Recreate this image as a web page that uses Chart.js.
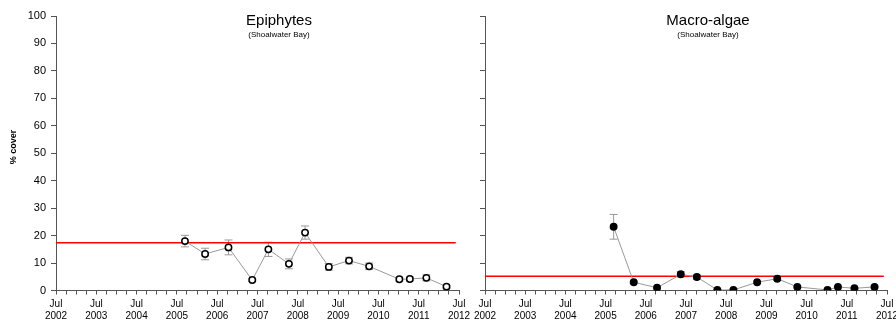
<!DOCTYPE html>
<html>
<head>
<meta charset="utf-8">
<script src="https://cdn.jsdelivr.net/npm/chart.js@4.4.0/dist/chart.umd.min.js"></script>
<style>
  html, body { margin: 0; padding: 0; background: #fff; }
  #wrap { position: relative; width: 896px; height: 325px; }
  canvas { position: absolute; top: 0; }
  #c1 { left: 0; }
  #c2 { left: 470px; }
</style>
</head>
<body>
<div id="wrap">
  <canvas id="c1" width="470" height="325"></canvas>
  <canvas id="c2" width="426" height="325"></canvas>
</div>
<script>
// sampling dates as decimal years (Jul 2002 = 2002.5)
const sampleDates = [2005.70, 2006.20, 2006.78, 2007.37, 2007.77, 2008.28, 2008.68,
                     2009.27, 2009.77, 2010.27, 2011.02, 2011.28, 2011.69, 2012.19];

const epiphyteCover = [18.0, 13.3, 15.7, 3.8, 15.0, 9.7, 21.1, 8.6, 10.9, 8.8, 4.1, 4.2, 4.6, 1.4];
const epiphyteErr   = [2.1, 2.1, 2.7, 0.5, 2.6, 1.8, 2.4, 1.2, 1.2, 1.2, 0.7, 0.7, 1.1, 0.5];
const epiphyteRef   = 17.4;

const macroCover = [23.2, 3.0, 1.0, 5.9, 4.9, 0.2, 0.2, 3.0, 4.3, 1.3, 0.2, 1.3, 0.8, 1.3];
const macroErr   = [4.5, 0.4, 0.3, 1.0, 0.8, 0.1, 0.1, 0.4, 0.6, 0.3, 0.1, 0.3, 0.2, 0.3];
const macroRef   = 5.2;

const refSpan = [2002.5, 2012.42];
const xRange = [2002.5, 2012.5];
const yTicks = [0, 10, 20, 30, 40, 50, 60, 70, 80, 90, 100];

Chart.defaults.font.family = '"Liberation Sans", Arial, sans-serif';
Chart.defaults.color = '#000';

const AXIS = '#555';

// error bars drawn under the markers, through the chart's own scales
const errorBarPlugin = {
  id: 'errorBars',
  beforeDatasetsDraw(chart, args, opts) {
    const { ctx, scales: { x, y } } = chart;
    ctx.save();
    ctx.strokeStyle = '#999';
    ctx.lineWidth = 1;
    opts.values.forEach((v, i) => {
      const e = opts.errors[i];
      if (!e) return;
      const px = x.getPixelForValue(sampleDates[i]);
      const top = y.getPixelForValue(v + e), bot = y.getPixelForValue(v - e);
      ctx.beginPath();
      ctx.moveTo(px, top); ctx.lineTo(px, bot);
      ctx.moveTo(px - 4, top); ctx.lineTo(px + 4, top);
      ctx.moveTo(px - 4, bot); ctx.lineTo(px + 4, bot);
      ctx.stroke();
    });
    ctx.restore();
  }
};

// panel title, subtitle and y-axis title
const labelPlugin = {
  id: 'panelLabels',
  afterDraw(chart, args, opts) {
    const { ctx, chartArea } = chart;
    const cx = chartArea.left + 223;
    ctx.save();
    ctx.fillStyle = '#000';
    ctx.textAlign = 'center';
    ctx.textBaseline = 'middle';
    ctx.font = '15px "Liberation Sans", Arial, sans-serif';
    ctx.fillText(opts.title, cx, 21);
    ctx.font = '8px "Liberation Sans", Arial, sans-serif';
    ctx.fillText('(Shoalwater Bay)', cx, 35);
    if (opts.yTitle) {
      ctx.translate(14, 147);
      ctx.rotate(-Math.PI / 2);
      ctx.font = 'bold 9px "Liberation Sans", Arial, sans-serif';
      ctx.fillText(opts.yTitle, 0, 0);
    }
    ctx.restore();
  }
};

function makePanel(canvasId, cfg) {
  return new Chart(document.getElementById(canvasId), {
    type: 'line',
    data: {
      datasets: [
        {
          data: refSpan.map(d => ({ x: d, y: cfg.ref })),
          borderColor: '#ff0000',
          borderWidth: 1.5,
          pointRadius: 0,
          order: 2
        },
        {
          data: sampleDates.map((d, i) => ({ x: d, y: cfg.values[i] })),
          borderColor: '#999',
          borderWidth: 1,
          pointRadius: 3.2,
          pointBackgroundColor: cfg.fill,
          pointBorderColor: '#000',
          pointBorderWidth: 1.5,
          order: 1
        }
      ]
    },
    options: {
      responsive: false,
      animation: false,
      events: [],
      layout: { padding: { top: 16, bottom: 0, left: 0, right: cfg.padRight } },
      plugins: {
        legend: { display: false },
        tooltip: { enabled: false },
        errorBars: { values: cfg.values, errors: cfg.errors },
        panelLabels: { title: cfg.title, yTitle: cfg.yTitle }
      },
      scales: {
        x: {
          type: 'linear',
          min: xRange[0],
          max: xRange[1],
          afterBuildTicks: (scale) => {
            const t = [];
            for (let v = xRange[0]; v <= xRange[1] + 1e-6; v += 0.25) t.push({ value: v });
            scale.ticks = t;
          },
          afterFit: (scale) => {
            scale.height = 34.5;
            scale.paddingLeft = 0;
            scale.paddingRight = 0;
          },
          border: { display: true, color: AXIS, width: 1 },
          grid: { drawOnChartArea: false, drawTicks: true, tickLength: 4, color: AXIS },
          ticks: {
            autoSkip: false,
            maxRotation: 0,
            minRotation: 0,
            padding: 4,
            font: { size: 10, lineHeight: 1.2 },
            callback: (v) => {
              const k = v - xRange[0];
              if (Math.abs(k - Math.round(k)) > 1e-6) return '';
              return ['Jul', String(Math.round(v - 0.5))];
            }
          }
        },
        y: {
          min: 0,
          max: 100,
          afterBuildTicks: (scale) => { scale.ticks = yTicks.map(v => ({ value: v })); },
          afterFit: (scale) => { scale.width = cfg.yWidth; },
          border: { display: true, color: AXIS, width: 1 },
          grid: { drawOnChartArea: false, drawTicks: true, tickLength: 5, color: AXIS },
          ticks: { display: cfg.showYLabels, padding: 5, font: { size: 11 } }
        }
      }
    },
    plugins: [errorBarPlugin, labelPlugin]
  });
}

makePanel('c1', {
  title: 'Epiphytes', yTitle: '% cover',
  values: epiphyteCover, errors: epiphyteErr, ref: epiphyteRef,
  fill: '#fff', yWidth: 56, padRight: 11, showYLabels: true
});

makePanel('c2', {
  title: 'Macro-algae', yTitle: null,
  values: macroCover, errors: macroErr, ref: macroRef,
  fill: '#000', yWidth: 15, padRight: 9, showYLabels: false
});
</script>
</body>
</html>
